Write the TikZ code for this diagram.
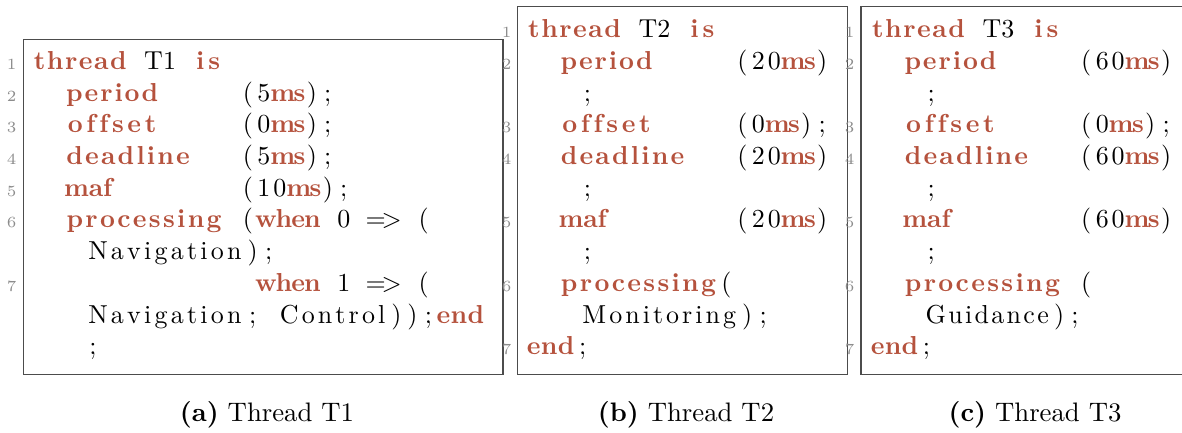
\documentclass[tikz,border=0pt]{standalone}
\usepackage{tikz}

\definecolor{kwred}{RGB}{181,82,61}
\newlength\colw
\setlength\colw{6.15pt}
\newcount\nch
\makeatletter
\def\fx@count#1{\ifx\relax#1\else\advance\nch by 1 \expandafter\fx@count\fi}
\def\fx@spread#1{\ifx\relax#1\else#1\hss\expandafter\fx@spread\fi}
\def\sy@loop#1{\ifx\relax#1\else\hbox to\colw{\hss#1\hss}\expandafter\sy@loop\fi}
\newcommand\fx[1]{\nch=0 \fx@count#1\relax\hbox to \nch\colw{\hss\fx@spread#1\relax}}
\newcommand\sy[1]{\sy@loop#1\relax}
\makeatother
\newcommand\kw[1]{{\color{kwred}\bfseries\fx{#1}}}
\newcommand\sk[1]{\hspace*{#1\colw}}

\begin{document}
\begin{tikzpicture}[x=0.385pt,y=-0.385pt]
\tikzset{codeline/.style={anchor=base west, inner sep=0pt, font=\fontsize{10}{12}\selectfont},
  lineno/.style={anchor=base east, inner sep=0pt, text=black!45, font=\fontsize{6}{7}\selectfont},
  frame/.style={draw=black!70, line width=0.55pt},
  capt/.style={anchor=base, inner sep=0pt, font=\fontsize{10.3}{12}\selectfont}}
\useasboundingbox (0,0) rectangle (1182,432);
\clip (0,0) rectangle (1182,432);
\draw[frame] (23.3,39.3) rectangle (503,374.3);
\draw[frame] (517.3,6.7) rectangle (847.7,374.3);
\draw[frame] (861,6.7) rectangle (1197,374.3);
% thread T1
\node[lineno] (na1) at (17,69.4) {1};
\node[lineno] (na2) at (17,101.1) {2};
\node[lineno] (na3) at (17,132.8) {3};
\node[lineno] (na4) at (17,164.5) {4};
\node[lineno] (na5) at (17,196.2) {5};
\node[lineno] (na6) at (17,227.9) {6};
\node[lineno] (na7) at (17,291.3) {7};
\node[codeline] (a1) at (31.8,69.4) {\kw{thread}\sk{1}\fx{T1}\sk{1}\kw{is}};
\node[codeline] (a2) at (31.8,101.1) {\sk{2}\kw{period}\sk{5}\sy{(5}\kw{ms}\sy{);}};
\node[codeline] (a3) at (31.8,132.8) {\sk{2}\kw{offset}\sk{5}\sy{(0}\kw{ms}\sy{);}};
\node[codeline] (a4) at (31.8,164.5) {\sk{2}\kw{deadline}\sk{3}\sy{(5}\kw{ms}\sy{);}};
\node[codeline] (a5) at (31.8,196.2) {\sk{2}\kw{maf}\sk{8}\sy{(10}\kw{ms}\sy{);}};
\node[codeline] (a6) at (31.8,227.9) {\sk{2}\kw{processing}\sk{1}\sy{(}\kw{when}\sk{1}\sy{0}\sk{1}\sy{=>}\sk{1}\sy{(}};
\node[codeline] (a7) at (31.8,259.6) {\sk{3.3}\fx{Navigation}\sy{);}};
\node[codeline] (a8) at (31.8,291.3) {\sk{14}\kw{when}\sk{1}\sy{1}\sk{1}\sy{=>}\sk{1}\sy{(}};
\node[codeline] (a9) at (31.8,323) {\sk{3.3}\fx{Navigation}\sy{;}\sk{1}\fx{Control}\sy{));}\kw{end}};
\node[codeline] (a10) at (31.8,354.7) {\sk{3.3}\sy{;}};
% thread T2
\node[lineno] (nb1) at (512,37.7) {1};
\node[lineno] (nb2) at (512,69.4) {2};
\node[lineno] (nb3) at (512,132.8) {3};
\node[lineno] (nb4) at (512,164.5) {4};
\node[lineno] (nb5) at (512,227.9) {5};
\node[lineno] (nb6) at (512,291.3) {6};
\node[lineno] (nb7) at (512,354.7) {7};
\node[codeline] (b1) at (526.2,37.7) {\kw{thread}\sk{1}\fx{T2}\sk{1}\kw{is}};
\node[codeline] (b2) at (526.2,69.4) {\sk{2}\kw{period}\sk{5}\sy{(20}\kw{ms}\sy{)}};
\node[codeline] (b3) at (526.2,101.1) {\sk{3.3}\sy{;}};
\node[codeline] (b4) at (526.2,132.8) {\sk{2}\kw{offset}\sk{5}\sy{(0}\kw{ms}\sy{);}};
\node[codeline] (b5) at (526.2,164.5) {\sk{2}\kw{deadline}\sk{3}\sy{(20}\kw{ms}\sy{)}};
\node[codeline] (b6) at (526.2,196.2) {\sk{3.3}\sy{;}};
\node[codeline] (b7) at (526.2,227.9) {\sk{2}\kw{maf}\sk{8}\sy{(20}\kw{ms}\sy{)}};
\node[codeline] (b8) at (526.2,259.6) {\sk{3.3}\sy{;}};
\node[codeline] (b9) at (526.2,291.3) {\sk{2}\kw{processing}\sy{(}};
\node[codeline] (b10) at (526.2,323) {\sk{3.3}\fx{Monitoring}\sy{);}};
\node[codeline] (b11) at (526.2,354.7) {\kw{end}\sy{;}};
% thread T3
\node[lineno] (nc1) at (855,37.7) {1};
\node[lineno] (nc2) at (855,69.4) {2};
\node[lineno] (nc3) at (855,132.8) {3};
\node[lineno] (nc4) at (855,164.5) {4};
\node[lineno] (nc5) at (855,227.9) {5};
\node[lineno] (nc6) at (855,291.3) {6};
\node[lineno] (nc7) at (855,354.7) {7};
\node[codeline] (c1) at (870.1,37.7) {\kw{thread}\sk{1}\fx{T3}\sk{1}\kw{is}};
\node[codeline] (c2) at (870.1,69.4) {\sk{2}\kw{period}\sk{5}\sy{(60}\kw{ms}\sy{)}};
\node[codeline] (c3) at (870.1,101.1) {\sk{3.3}\sy{;}};
\node[codeline] (c4) at (870.1,132.8) {\sk{2}\kw{offset}\sk{5}\sy{(0}\kw{ms}\sy{);}};
\node[codeline] (c5) at (870.1,164.5) {\sk{2}\kw{deadline}\sk{3}\sy{(60}\kw{ms}\sy{)}};
\node[codeline] (c6) at (870.1,196.2) {\sk{3.3}\sy{;}};
\node[codeline] (c7) at (870.1,227.9) {\sk{2}\kw{maf}\sk{8}\sy{(60}\kw{ms}\sy{)}};
\node[codeline] (c8) at (870.1,259.6) {\sk{3.3}\sy{;}};
\node[codeline] (c9) at (870.1,291.3) {\sk{2}\kw{processing}\sk{1}\sy{(}};
\node[codeline] (c10) at (870.1,323) {\sk{3.3}\fx{Guidance}\sy{);}};
\node[codeline] (c11) at (870.1,354.7) {\kw{end}\sy{;}};
% captions
\node[capt] (capa) at (267,421) {\textbf{(a)} Thread T1};
\node[capt] (capb) at (686,421) {\textbf{(b)} Thread T2};
\node[capt] (capc) at (1035,421) {\textbf{(c)} Thread T3};
\end{tikzpicture}
\end{document}
